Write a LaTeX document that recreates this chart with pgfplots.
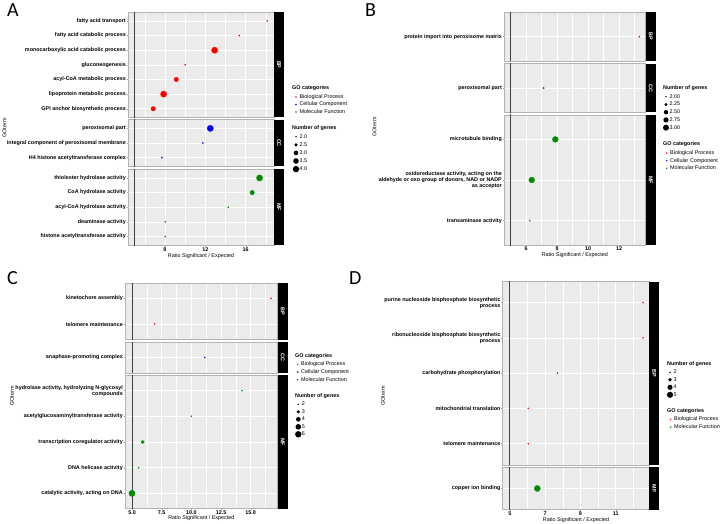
\documentclass[border=0pt]{standalone}
\usepackage{fontspec}
\setmainfont{Liberation Sans}
\newfontfamily\carlito{Carlito}
\usepackage{pgfplots}
\pgfplotsset{compat=1.18}
\definecolor{bgc}{HTML}{EBEBEB}
\definecolor{framec}{HTML}{B3B3B3}
\definecolor{cBP}{HTML}{FF0000}
\definecolor{cCC}{HTML}{0000FF}
\definecolor{cMF}{HTML}{008B00}
\definecolor{vlc}{HTML}{404040}
\newcommand{\fs}{\fontsize{5.4}{6}\selectfont}
\newcommand{\fsb}{\fontsize{5.4}{6}\selectfont\bfseries}
\pgfplotsset{
  facet/.style={scale only axis, anchor=north west,
    axis background/.style={fill=bgc},
    axis line style={draw=framec, line width=0.6pt},
    xmajorgrids, xminorgrids, ymajorgrids,
    major grid style={white, line width=0.55pt},
    minor grid style={white, line width=0.3pt},
    tick pos=left, tick align=outside,
    major tick length=1.4pt, minor tick length=0pt,
    tick style={black!35, line width=0.35pt},
    tick label style={font=\fsb},
    yticklabel style={align=right, inner sep=0.6pt},
    xticklabel style={inner sep=0.6pt},
    ymin=-0.6},
  nox/.style={xticklabels={}, xtick style={draw=none}},
  xlab/.style={xlabel={Ratio Significant / Expected}, xlabel style={font=\fs, inner sep=0pt, at={(axis description cs:0.5,0)}, anchor=center, yshift=#1}},
  dots/.style n args={3}{scatter, only marks, mark=*, scatter/use mapped color={draw=#1, fill=#1},
    mark options={line width=0.15pt},
    visualization depends on={sqrt(0.5+(#3*#3-0.5)*(\thisrow{n}-2)/(#2-2)) \as \rad},
    scatter/@pre marker code/.append style={/tikz/mark size=\rad pt}},
  vline/.style={vlc, line width=0.6pt, forget plot},
  leg/.style={hide axis, scale only axis, width=1pt, height=1pt, xmin=0, xmax=1, ymin=0, ymax=1, anchor=north west,
    legend cell align=left,
    legend style={at={(0,1)}, anchor=north west, draw=none, fill=none, inner sep=0pt, outer sep=0pt, row sep=0pt, font=\fs,
      nodes={inner sep=0pt, text height=4pt, text depth=1.2pt},
      /tikz/every even column/.append style={column sep=2pt}}},
  ldot/.style n args={3}{legend image code/.code={\path[draw=none, fill=none] (-3.5pt,-#3) rectangle (3.5pt,#3); \fill[#1, draw=none] (0pt,0pt) circle (#2);}},
}
\begin{document}
\begin{tikzpicture}[x=1pt,y=1pt]
\path[use as bounding box] (0,0) rectangle (723,-524);

% ================= Panel A =================
\begin{axis}[facet, at={(128pt,-12.2pt)}, width=146pt, height=105.3pt, xmin=4.34, xmax=18.8, ymax=6.6,
  xtick={8,12,16}, minor xtick={6,10,14,18}, nox,
  ytick={0,...,6}, yticklabels={GPI anchor biosynthetic process, lipoprotein metabolic process, acyl-CoA metabolic process, gluconeogenesis, monocarboxylic acid catabolic process, fatty acid catabolic process, fatty acid transport}]
\addplot[vline] coordinates {(5,-1) (5,10)};
\addplot[dots={cBP}{4}{3.2}] table {
x y n
18.13 6 2
15.36 5 2
12.92 4 4
10.00 3 2
9.12 2 3
7.87 1 4
6.84 0 3
};
\end{axis}
\begin{axis}[facet, at={(128pt,-119.6pt)}, width=146pt, height=46.8pt, xmin=4.34, xmax=18.8, ymax=2.6,
  xtick={8,12,16}, minor xtick={6,10,14,18}, nox,
  ytick={0,...,2}, yticklabels={H4 histone acetyltransferase complex, integral component of peroxisomal membrane, peroxisomal part}]
\addplot[vline] coordinates {(5,-1) (5,10)};
\addplot[dots={cCC}{4}{3.2}] table {
x y n
12.49 2 4
11.76 1 2
7.70 0 2
};
\end{axis}
\begin{axis}[facet, at={(128pt,-169.2pt)}, width=146pt, height=76pt, xmin=4.34, xmax=18.8, ymax=4.6,
  xtick={8,12,16}, minor xtick={6,10,14,18}, xticklabels={8,12,16}, xlab=-10.5pt,
  ytick={0,...,4}, yticklabels={histone acetyltransferase activity, deaminase activity, acyl-CoA hydrolase activity, CoA hydrolase activity, thiolester hydrolase activity}]
\addplot[vline] coordinates {(5,-1) (5,10)};
\addplot[dots={cMF}{4}{3.2}] table {
x y n
17.37 4 4
16.64 3 3
14.27 2 2
8.03 1 2
8.03 0 2
};
\end{axis}
\fill[black] (274,-12.2) rectangle (284,-117.5);
\fill[black] (274,-119.6) rectangle (284,-166.4);
\fill[black] (274,-169.2) rectangle (284,-245.2);
\node[white, rotate=-90, font=\fsb] at (279,-64.85) {BP};
\node[white, rotate=-90, font=\fsb] at (279,-143) {CC};
\node[white, rotate=-90, font=\fsb] at (279,-207.2) {MF};
\node[rotate=90, font=\fs] at (4.5,-128) {GOterm};
\node[anchor=north west, inner sep=0pt, font=\carlito\fontsize{20}{20}\selectfont] at (7,-3) {A};
\node[anchor=west, inner sep=0pt, font=\fsb] at (292,-88) {GO categories};
\node[anchor=west, inner sep=0pt, font=\fsb] at (292,-128) {Number of genes};
\begin{axis}[leg, at={(292.5pt,-93.25pt)}]
\addlegendimage{ldot={cBP}{0.8pt}{3.75pt}}\addlegendentry{Biological Process}
\addlegendimage{ldot={cCC}{0.8pt}{3.75pt}}\addlegendentry{Cellular Component}
\addlegendimage{ldot={cMF}{0.8pt}{3.75pt}}\addlegendentry{Molecular Function}
\end{axis}
\begin{axis}[leg, at={(292.5pt,-132.65pt)}]
\addlegendimage{ldot={black}{0.8pt}{4.05pt}}\addlegendentry{2.0}
\addlegendimage{ldot={black}{1.74pt}{4.05pt}}\addlegendentry{2.5}
\addlegendimage{ldot={black}{2.33pt}{4.05pt}}\addlegendentry{3.0}
\addlegendimage{ldot={black}{2.8pt}{4.05pt}}\addlegendentry{3.5}
\addlegendimage{ldot={black}{3.2pt}{4.05pt}}\addlegendentry{4.0}
\end{axis}

% ================= Panel B =================
\begin{axis}[facet, at={(504pt,-12.3pt)}, width=141.7pt, height=48.7pt, xmin=4.58, xmax=13.72, ymax=0.6,
  xtick={6,8,10,12}, minor xtick={5,7,9,11,13}, nox,
  ytick={0}, yticklabels={protein import into peroxisome matrix}]
\addplot[vline] coordinates {(5,-1) (5,10)};
\addplot[dots={cBP}{3}{3.0}] table {
x y n
13.31 0 2
};
\end{axis}
\begin{axis}[facet, at={(504pt,-63.7pt)}, width=141.7pt, height=48.7pt, xmin=4.58, xmax=13.72, ymax=0.6,
  xtick={6,8,10,12}, minor xtick={5,7,9,11,13}, nox,
  ytick={0}, yticklabels={peroxisomal part}]
\addplot[vline] coordinates {(5,-1) (5,10)};
\addplot[dots={cCC}{3}{3.0}] table {
x y n
7.14 0 2
};
\end{axis}
\begin{axis}[facet, at={(504pt,-115pt)}, width=141.7pt, height=130pt, xmin=4.58, xmax=13.72, ymax=2.6,
  xtick={6,8,10,12}, minor xtick={5,7,9,11,13}, xticklabels={6,8,10,12}, xlab=-10.5pt,
  ytick={0,...,2}, yticklabels={transaminase activity, {oxidoreductase activity, acting on the\\aldehyde or oxo group of donors, NAD or NADP\\as acceptor}, microtubule binding}]
\addplot[vline] coordinates {(5,-1) (5,10)};
\addplot[dots={cMF}{3}{3.0}] table {
x y n
7.89 2 3
6.37 1 3
6.24 0 2
};
\end{axis}
\fill[black] (645.7,-12.3) rectangle (655.7,-61);
\fill[black] (645.7,-63.7) rectangle (655.7,-112.4);
\fill[black] (645.7,-115) rectangle (655.7,-245);
\node[white, rotate=-90, font=\fsb] at (650.7,-36.65) {BP};
\node[white, rotate=-90, font=\fsb] at (650.7,-88.05) {CC};
\node[white, rotate=-90, font=\fsb] at (650.7,-180) {MF};
\node[rotate=90, font=\fs] at (374.5,-127) {GOterm};
\node[anchor=north west, inner sep=0pt, font=\carlito\fontsize{20}{20}\selectfont] at (365,-3) {B};
\node[anchor=west, inner sep=0pt, font=\fsb] at (663,-88) {Number of genes};
\node[anchor=west, inner sep=0pt, font=\fsb] at (663,-144) {GO categories};
\begin{axis}[leg, at={(662.5pt,-92.8pt)}]
\addlegendimage{ldot={black}{0.8pt}{3.875pt}}\addlegendentry{2.00}
\addlegendimage{ldot={black}{1.65pt}{3.875pt}}\addlegendentry{2.25}
\addlegendimage{ldot={black}{2.2pt}{3.875pt}}\addlegendentry{2.50}
\addlegendimage{ldot={black}{2.63pt}{3.875pt}}\addlegendentry{2.75}
\addlegendimage{ldot={black}{3.0pt}{3.875pt}}\addlegendentry{3.00}
\end{axis}
\begin{axis}[leg, at={(663.2pt,-149.2pt)}]
\addlegendimage{ldot={cBP}{0.8pt}{3.825pt}}\addlegendentry{Biological Process}
\addlegendimage{ldot={cCC}{0.8pt}{3.825pt}}\addlegendentry{Cellular Component}
\addlegendimage{ldot={cMF}{0.8pt}{3.825pt}}\addlegendentry{Molecular Function}
\end{axis}

% ================= Panel C =================
\begin{axis}[facet, at={(125pt,-283pt)}, width=152.7pt, height=56.5pt, xmin=4.41, xmax=17.27, ymax=1.6,
  xtick={5,7.5,10,12.5,15}, minor xtick={6.25,8.75,11.25,13.75,16.25}, nox,
  ytick={0,1}, yticklabels={telomere maintenance, kinetochore assembly}]
\addplot[vline] coordinates {(5,-1) (5,10)};
\addplot[dots={cBP}{6}{3.2}] table {
x y n
16.71 1 2
6.91 0 2
};
\end{axis}
\begin{axis}[facet, at={(125pt,-342pt)}, width=152.7pt, height=30.8pt, xmin=4.41, xmax=17.27, ymax=0.6,
  xtick={5,7.5,10,12.5,15}, minor xtick={6.25,8.75,11.25,13.75,16.25}, nox,
  ytick={0}, yticklabels={anaphase-promoting complex}]
\addplot[vline] coordinates {(5,-1) (5,10)};
\addplot[dots={cCC}{6}{3.2}] table {
x y n
11.12 0 2
};
\end{axis}
\begin{axis}[facet, at={(125pt,-375.2pt)}, width=152.7pt, height=133.6pt, xmin=4.41, xmax=17.27, ymax=4.6,
  xtick={5,7.5,10,12.5,15}, minor xtick={6.25,8.75,11.25,13.75,16.25}, xticklabels={5.0,7.5,10.0,12.5,15.0}, xlab=-9.8pt,
  ytick={0,...,4}, yticklabels={{catalytic activity, acting on DNA}, DNA helicase activity, transcription coregulator activity, acetylglucosaminyltransferase activity, {hydrolase activity, hydrolyzing N-glycosyl\\compounds}}]
\addplot[vline] coordinates {(5,-1) (5,10)};
\addplot[dots={cMF}{6}{3.2}] table {
x y n
14.27 4 2
10.00 3 2
5.90 2 3
5.56 1 2
5.00 0 6
};
\end{axis}
\fill[black] (277.7,-283) rectangle (287.7,-339.5);
\fill[black] (277.7,-342) rectangle (287.7,-372.8);
\fill[black] (277.7,-375.2) rectangle (287.7,-508.8);
\node[white, rotate=-90, font=\fsb] at (282.7,-311.25) {BP};
\node[white, rotate=-90, font=\fsb] at (282.7,-357.4) {CC};
\node[white, rotate=-90, font=\fsb] at (282.7,-442) {MF};
\node[rotate=90, font=\fs] at (12,-396) {GOterm};
\node[anchor=north west, inner sep=0pt, font=\carlito\fontsize{20}{20}\selectfont] at (7,-271) {C};
\node[anchor=west, inner sep=0pt, font=\fsb] at (295,-356.3) {GO categories};
\node[anchor=west, inner sep=0pt, font=\fsb] at (295,-395.7) {Number of genes};
\begin{axis}[leg, at={(294.2pt,-360.45pt)}]
\addlegendimage{ldot={cBP}{0.8pt}{3.85pt}}\addlegendentry{Biological Process}
\addlegendimage{ldot={cCC}{0.8pt}{3.85pt}}\addlegendentry{Cellular Component}
\addlegendimage{ldot={cMF}{0.8pt}{3.85pt}}\addlegendentry{Molecular Function}
\end{axis}
\begin{axis}[leg, at={(294.8pt,-400.55pt)}]
\addlegendimage{ldot={black}{0.8pt}{3.75pt}}\addlegendentry{2}
\addlegendimage{ldot={black}{1.74pt}{3.75pt}}\addlegendentry{3}
\addlegendimage{ldot={black}{2.33pt}{3.75pt}}\addlegendentry{4}
\addlegendimage{ldot={black}{2.8pt}{3.75pt}}\addlegendentry{5}
\addlegendimage{ldot={black}{3.2pt}{3.75pt}}\addlegendentry{6}
\end{axis}

% ================= Panel D =================
\begin{axis}[facet, at={(502.7pt,-281.5pt)}, width=146.6pt, height=183.3pt, xmin=4.6, xmax=12.9, ymax=4.6,
  xtick={5,7,9,11}, minor xtick={6,8,10,12}, nox,
  ytick={0,...,4}, yticklabels={telomere maintenance, mitochondrial translation, carbohydrate phosphorylation, {ribonucleoside bisphosphate biosynthetic\\process}, {purine nucleoside bisphosphate biosynthetic\\process}}]
\addplot[vline] coordinates {(5,-1) (5,10)};
\addplot[dots={cBP}{5}{3.1}] table {
x y n
12.55 4 2
12.55 3 2
7.70 2 2
6.05 1 2
6.05 0 2
};
\end{axis}
\begin{axis}[facet, at={(502.7pt,-467.3pt)}, width=146.6pt, height=42.3pt, xmin=4.6, xmax=12.9, ymax=0.6,
  xtick={5,7,9,11}, minor xtick={6,8,10,12}, xticklabels={5,7,9,11}, xlab=-10.1pt,
  ytick={0}, yticklabels={copper ion binding}]
\addplot[vline] coordinates {(5,-1) (5,10)};
\addplot[dots={cMF}{5}{3.1}] table {
x y n
6.56 0 5
};
\end{axis}
\fill[black] (649.3,-281.5) rectangle (659.3,-464.8);
\fill[black] (649.3,-467.3) rectangle (659.3,-509.6);
\node[white, rotate=-90, font=\fsb] at (654.3,-373.15) {BP};
\node[white, rotate=-90, font=\fsb] at (654.3,-488.45) {MF};
\node[rotate=90, font=\fs] at (383,-396) {GOterm};
\node[anchor=north west, inner sep=0pt, font=\carlito\fontsize{20}{20}\selectfont] at (349,-271) {D};
\node[anchor=west, inner sep=0pt, font=\fsb] at (667,-363.7) {Number of genes};
\node[anchor=west, inner sep=0pt, font=\fsb] at (667,-411) {GO categories};
\begin{axis}[leg, at={(666.5pt,-368.55pt)}]
\addlegendimage{ldot={black}{0.8pt}{3.75pt}}\addlegendentry{2}
\addlegendimage{ldot={black}{1.9pt}{3.75pt}}\addlegendentry{3}
\addlegendimage{ldot={black}{2.57pt}{3.75pt}}\addlegendentry{4}
\addlegendimage{ldot={black}{3.1pt}{3.75pt}}\addlegendentry{5}
\end{axis}
\begin{axis}[leg, at={(667.2pt,-415.45pt)}]
\addlegendimage{ldot={cBP}{0.8pt}{3.85pt}}\addlegendentry{Biological Process}
\addlegendimage{ldot={cMF}{0.8pt}{3.85pt}}\addlegendentry{Molecular Function}
\end{axis}
\end{tikzpicture}
\end{document}
